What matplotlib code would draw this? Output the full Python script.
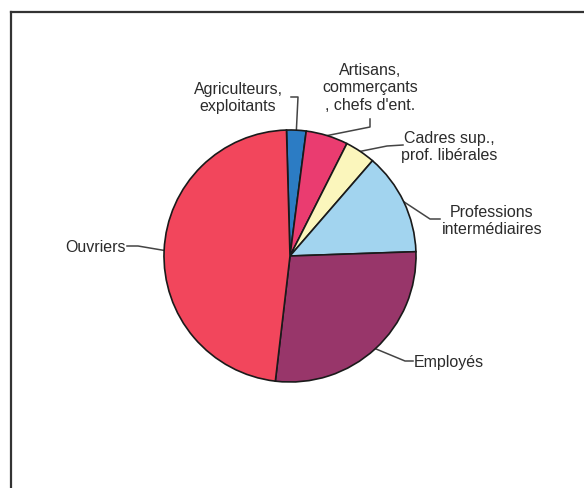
import numpy as np
import matplotlib.pyplot as plt

plt.rcParams['font.family'] = ['Liberation Sans', 'DejaVu Sans']

categories = ["Agriculteurs,\nexploitants",
              "Artisans,\ncommerçants\n, chefs d'ent.",
              "Cadres sup.,\nprof. libérales",
              "Professions\nintermédiaires",
              "Employés",
              "Ouvriers"]
shares = [2.5, 5.4, 3.9, 13.1, 27.4, 47.7]
colors = ["#2c7cc4", "#ea3c70", "#fbf6bc", "#a2d4ef", "#98366a", "#f2465c"]

W, H = 584, 489
CX, CY, R = 290, 257, 126  # pie centre / radius in pixels, y measured from the top


def px(x, y):
    return x, H - y


fig = plt.figure(figsize=(W / 100, H / 100), dpi=100)
ax = fig.add_axes([0, 0, 1, 1])

wedges, _ = ax.pie(shares, colors=colors, startangle=91.6, counterclock=False,
                   center=px(CX, CY), radius=R,
                   wedgeprops=dict(edgecolor='#1a1a1a', linewidth=1.2))
ax.set_xlim(0, W)
ax.set_ylim(0, H)
ax.set_aspect('equal')
ax.axis('off')

# leader line bends and label position for each slice
layout = [
    ([(298, 98), (291, 98)], (238, 98), 'center'),
    ([(370, 128), (370, 120)], (370, 88), 'center'),
    ([(387, 147), (403, 146)], (449, 147), 'center'),
    ([(430, 220), (440, 220)], (492, 221), 'center'),
    ([(405, 362), (413, 362)], (414, 363), 'left'),
    ([(138, 247), (127, 247)], (126, 248), 'right'),
]

for w, label, (bends, pos, ha) in zip(wedges, categories, layout):
    mid = np.deg2rad((w.theta1 + w.theta2) / 2)
    x0 = w.center[0] + w.r * np.cos(mid)
    y0 = w.center[1] + w.r * np.sin(mid)
    xs = [x0] + [b[0] for b in bends]
    ys = [y0] + [H - b[1] for b in bends]
    ax.plot(xs, ys, color='#444444', lw=1.1, zorder=0)
    ax.text(*px(*pos), label, ha=ha, va='center', fontsize=11.5,
            color='#2b2b2b', linespacing=1.2)

# frame edges along the top and the left
ax.plot([10.5, W], [H - 12.5, H - 12.5], color='#333333', lw=1.6, clip_on=False)
ax.plot([10.5, 10.5], [H - 12.5, 0], color='#333333', lw=1.6, clip_on=False)

fig.savefig('out.png', dpi=100)
